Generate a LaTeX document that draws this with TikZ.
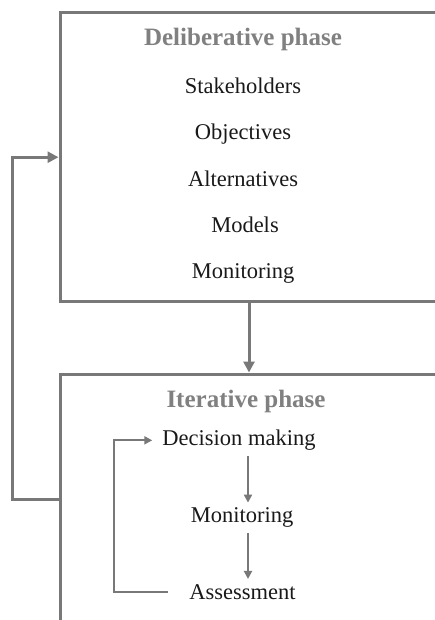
\documentclass[tikz,border=0pt]{standalone}
\usepackage{fontspec}
\setmainfont{Liberation Serif}
\usetikzlibrary{arrows.meta}
\definecolor{linegray}{RGB}{120,120,120}
\definecolor{titlegray}{RGB}{128,128,128}
\definecolor{textblack}{RGB}{25,25,25}
\tikzset{
  phasebox/.style={draw=linegray, line width=3pt, minimum width=378pt, inner sep=0pt},
  phasetitle/.style={anchor=base, text=titlegray, font=\fontsize{25}{30}\selectfont\bfseries},
  item/.style={anchor=base, text=textblack, inner sep=5pt, font=\fontsize{22.5}{27}\selectfont},
  bigarrow/.style={draw=linegray, line width=3pt, -{Triangle[length=11pt,width=11pt]}},
  smallarrow/.style={draw=linegray, line width=2.2pt, -{Triangle[length=8pt,width=8pt]}}
}
\begin{document}
\begin{tikzpicture}[x=1pt,y=-1pt]
    \useasboundingbox (0,0) rectangle (435,620);
    \clip (0,0) rectangle (435,620);
    %Boxes
    \node [phasebox, minimum height=289pt] (delib) at (249,157.2) {};
    \node [phasebox, minimum height=250pt] (iter) at (249,499) {};
    %Deliberative phase
    \node [phasetitle] (delibtitle) at (243,45.7) {Deliberative phase};
    \node [item] (stake) at (243,93.5) {Stakeholders};
    \node [item] (obj) at (243,139.8) {Objectives};
    \node [item] (alt) at (243,186.1) {Alternatives};
    \node [item] (mod) at (245,232.4) {Models};
    \node [item] (monone) at (243,278.7) {Monitoring};
    %Iterative phase
    \node [phasetitle] (itertitle) at (246,407) {Iterative phase};
    \node [item] (dm) at (239,445.7) {Decision making};
    \node [item] (montwo) at (242,522.7) {Monitoring};
    \node [item] (assess) at (242.5,599) {Assessment};
    \coordinate (arrx) at (248,0);
    %Arrows between boxes
    \draw [bigarrow] (delib.south) -- (iter.north);
    \draw [bigarrow] (iter.west) -- ++(-46,0) |- (delib.west);
    %Arrows inside iterative phase
    \draw [smallarrow] (dm.south -| arrx) -- (montwo.north -| arrx);
    \draw [smallarrow] (montwo.south -| arrx) -- (assess.north -| arrx);
    \draw [smallarrow] ([xshift=-16pt]assess.west) -- ++(-54,0) |- ([xshift=-5pt]dm.west);
\end{tikzpicture}
\end{document}
